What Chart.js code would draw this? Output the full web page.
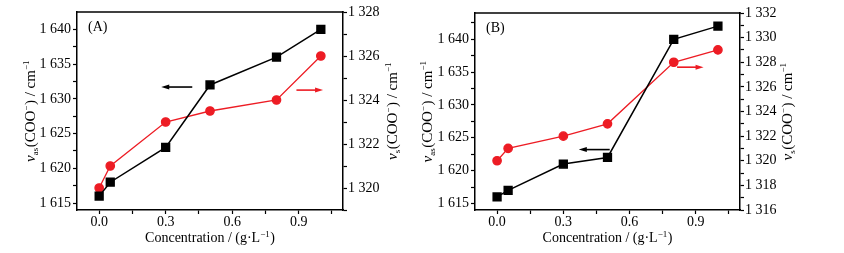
<!DOCTYPE html>
<html>
<head>
<meta charset="utf-8">
<script src="https://cdn.jsdelivr.net/npm/chart.js@4/dist/chart.umd.min.js"></script>
<style>
  html, body { margin: 0; padding: 0; background: #fff; }
  #wrap { position: relative; width: 844px; height: 253px; }
  .panel { position: absolute; top: 0; height: 253px; }
</style>
</head>
<body>
<div id="wrap">
  <div class="panel" style="left:0;width:420px"><canvas id="chartA"></canvas></div>
  <div class="panel" style="left:420px;width:424px"><canvas id="chartB"></canvas></div>
</div>
<script>
// concentrations (g/L), shared by both panels
const conc = [0, 0.05, 0.3, 0.5, 0.8, 1.0];

// panel A
const nuAsA = [1616, 1618, 1623, 1632, 1636, 1640];
const nuSA = [1320, 1321, 1323, 1323.5, 1324, 1326];
// panel B
const nuAsB = [1616, 1617, 1621, 1622, 1640, 1642];
const nuSB = [1320, 1321, 1322, 1323, 1328, 1329];

// ticks
const xMajor = [0, 0.3, 0.6, 0.9];
const xMinor = [0.15, 0.45, 0.75, 1.05];
const leftMajor = [1615, 1620, 1625, 1630, 1635, 1640];
const leftMinorA = [1617.5, 1622.5, 1627.5, 1632.5, 1637.5];
const leftMinorB = [1617.5, 1622.5, 1627.5, 1632.5, 1637.5, 1642.5];
const rightMajorA = [1320, 1322, 1324, 1326, 1328];
const rightMinorA = [1319, 1321, 1323, 1325, 1327];
const rightMajorB = [1316, 1318, 1320, 1322, 1324, 1326, 1328, 1330, 1332];
const rightMinorB = [1317, 1319, 1321, 1323, 1325, 1327, 1329, 1331];

// arrows pointing to the axis each series belongs to (data units)
const arrowsA = [
  { from: 0.42, to: 0.28, y: 1631.7, axis: "y", color: "#000" },
  { from: 0.89, to: 1.01, y: 1324.45, axis: "y1", color: "#ed1c24" }
];
const arrowsB = [
  { from: 0.51, to: 0.37, y: 1623.2, axis: "y", color: "#000" },
  { from: 0.815, to: 0.935, y: 1327.6, axis: "y1", color: "#ed1c24" }
];

const FONT = '"Liberation Serif", "Times New Roman", serif';
const RED = "#ed1c24";

const titleLeft = [
  { t: "ν", s: "i" }, { t: "as", s: "sub" }, { t: "(COO" }, { t: "−", s: "sup" },
  { t: ") / cm" }, { t: "−1", s: "sup" }
];
const titleRight = [
  { t: "ν", s: "i" }, { t: "s", s: "sub" }, { t: "(COO" }, { t: "−", s: "sup" },
  { t: ") / cm" }, { t: "−1", s: "sup" }
];
const titleX = [
  { t: "Concentration / (g·L" }, { t: "−1", s: "sup" }, { t: ")" }
];

function partFont(p, size) {
  if (p.s === "i") return `italic ${size}px ${FONT}`;
  if (p.s === "sub" || p.s === "sup") return `${Math.round(size * 0.62)}px ${FONT}`;
  return `${size}px ${FONT}`;
}

function drawRich(ctx, parts, cx, cy, rot, size) {
  ctx.save();
  ctx.translate(cx, cy);
  ctx.rotate(rot);
  ctx.fillStyle = "#000";
  ctx.textBaseline = "middle";
  ctx.textAlign = "left";
  let total = 0;
  const widths = parts.map(p => {
    ctx.font = partFont(p, size);
    const w = ctx.measureText(p.t).width + (p.s === "sup" || p.s === "sub" ? 0.5 : 0);
    total += w;
    return w;
  });
  let x = -total / 2;
  parts.forEach((p, i) => {
    ctx.font = partFont(p, size);
    let dy = 0;
    if (p.s === "sub") dy = size * 0.3;
    if (p.s === "sup") dy = -size * 0.26;
    ctx.fillText(p.t, x, dy);
    x += widths[i];
  });
  ctx.restore();
}

function fmtThousands(v) {
  const s = String(Math.round(v));
  return s.length > 3 ? s.slice(0, s.length - 3) + " " + s.slice(-3) : s;
}

function setTicks(major, minor) {
  return scale => {
    scale.ticks = major.concat(minor).sort((a, b) => a - b).map(v => ({ value: v }));
  };
}

function makeChart(id, cfg) {
  const decor = {
    id: "decor",
    afterDraw(chart) {
      const { ctx, chartArea: a, scales } = chart;
      // top frame line
      ctx.save();
      ctx.strokeStyle = "#000";
      ctx.lineWidth = 1.5;
      ctx.beginPath();
      ctx.moveTo(a.left - 0.75, a.top);
      ctx.lineTo(a.right + 0.75, a.top);
      ctx.stroke();

      // arrows
      cfg.arrows.forEach(ar => {
        const x0 = scales.x.getPixelForValue(ar.from);
        const x1 = scales.x.getPixelForValue(ar.to);
        const y = scales[ar.axis].getPixelForValue(ar.y);
        const dir = Math.sign(x1 - x0);
        ctx.strokeStyle = ar.color;
        ctx.fillStyle = ar.color;
        ctx.lineWidth = 1.6;
        ctx.beginPath();
        ctx.moveTo(x0, y);
        ctx.lineTo(x1 - dir * 5, y);
        ctx.stroke();
        ctx.beginPath();
        ctx.moveTo(x1, y);
        ctx.lineTo(x1 - dir * 8, y - 2.5);
        ctx.lineTo(x1 - dir * 8, y + 2.5);
        ctx.closePath();
        ctx.fill();
      });

      // panel label
      ctx.fillStyle = "#000";
      ctx.font = `14px ${FONT}`;
      ctx.textBaseline = "middle";
      ctx.textAlign = "left";
      ctx.fillText(cfg.label, a.left + 11, a.top + 15);
      ctx.restore();

      // axis titles
      const mid = (a.top + a.bottom) / 2;
      drawRich(ctx, titleLeft, cfg.leftTitleX, mid, -Math.PI / 2, 15);
      drawRich(ctx, titleRight, cfg.rightTitleX, mid, -Math.PI / 2, 15);
      drawRich(ctx, titleX, (a.left + a.right) / 2, 238, 0, 14);
    }
  };

  const tickFont = { family: FONT, size: 14 };
  const gridCommon = {
    drawOnChartArea: false,
    drawTicks: true,
    tickLength: 4,
    tickColor: "#000",
    tickWidth: 1.2
  };
  const borderCommon = { display: true, color: "#000", width: 1.5 };

  return new Chart(document.getElementById(id), {
    type: "line",
    data: {
      datasets: [
        {
          label: "νas",
          data: conc.map((c, i) => ({ x: c, y: cfg.as[i] })),
          yAxisID: "y",
          borderColor: "#000",
          backgroundColor: "#000",
          borderWidth: 1.5,
          pointStyle: "rect",
          pointRadius: 5.5,
          pointHoverRadius: 5.5,
          tension: 0
        },
        {
          label: "νs",
          data: conc.map((c, i) => ({ x: c, y: cfg.s[i] })),
          yAxisID: "y1",
          borderColor: RED,
          backgroundColor: RED,
          borderWidth: 1.3,
          pointStyle: "circle",
          pointRadius: 4.2,
          pointHoverRadius: 4.2,
          tension: 0
        }
      ]
    },
    options: {
      responsive: true,
      maintainAspectRatio: false,
      animation: false,
      events: [],
      layout: { padding: { top: cfg.top, left: 0, right: 0, bottom: 0 } },
      plugins: { legend: { display: false }, tooltip: { enabled: false } },
      scales: {
        x: {
          type: "linear",
          min: -0.1,
          max: 1.1,
          afterBuildTicks: setTicks(xMajor, xMinor),
          afterFit: s => { s.height = 253 - 210; },
          grid: gridCommon,
          border: borderCommon,
          ticks: {
            autoSkip: false,
            maxRotation: 0,
            padding: 0,
            color: "#000",
            font: tickFont,
            callback: v => (xMinor.includes(v) ? "" : v.toFixed(1))
          }
        },
        y: {
          position: "left",
          min: 1614,
          max: cfg.leftMax,
          afterBuildTicks: setTicks(leftMajor, cfg.leftMinor),
          afterFit: s => { s.width = cfg.left; },
          grid: gridCommon,
          border: borderCommon,
          ticks: {
            autoSkip: false,
            padding: 2,
            color: "#000",
            font: tickFont,
            callback: v => (cfg.leftMinor.includes(v) ? "" : fmtThousands(v))
          }
        },
        y1: {
          position: "right",
          min: cfg.rightMin,
          max: cfg.rightMax,
          afterBuildTicks: setTicks(cfg.rightMajor, cfg.rightMinor),
          afterFit: s => { s.width = cfg.width - cfg.right; },
          grid: gridCommon,
          border: borderCommon,
          ticks: {
            autoSkip: false,
            padding: 1,
            color: "#000",
            font: tickFont,
            callback: v => (cfg.rightMinor.includes(v) ? "" : fmtThousands(v))
          }
        }
      }
    },
    plugins: [decor]
  });
}

makeChart("chartA", {
  as: nuAsA, s: nuSA, label: "(A)", arrows: arrowsA,
  width: 420, left: 77, right: 343, top: 12,
  leftMax: 1642.5, leftMinor: leftMinorA,
  rightMin: 1319, rightMax: 1328, rightMajor: rightMajorA, rightMinor: rightMinorA,
  leftTitleX: 31, rightTitleX: 393
});

makeChart("chartB", {
  as: nuAsB, s: nuSB, label: "(B)", arrows: arrowsB,
  width: 424, left: 55, right: 320, top: 13,
  leftMax: 1644, leftMinor: leftMinorB,
  rightMin: 1316, rightMax: 1332, rightMajor: rightMajorB, rightMinor: rightMinorB,
  leftTitleX: 8, rightTitleX: 368
});
</script>
</body>
</html>
